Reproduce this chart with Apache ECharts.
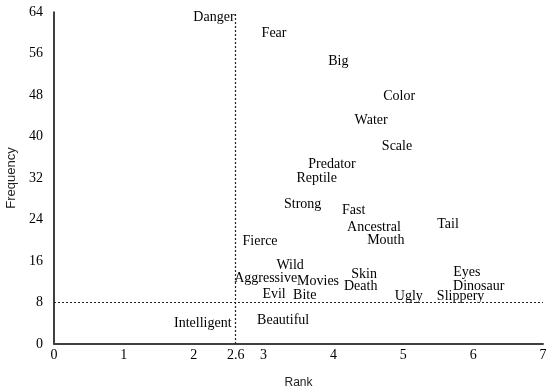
<!DOCTYPE html>
<html><head><meta charset="utf-8">
<script src="https://cdn.jsdelivr.net/npm/echarts@6/dist/echarts.min.js"></script>
<style>html,body{margin:0;padding:0;background:#fff}#c{width:550px;height:389px}</style>
</head><body><div id="c"></div>
<script>
var words = ['Danger','Fear','Big','Color','Water','Scale','Predator','Reptile','Strong','Fast','Tail','Ancestral','Mouth','Fierce','Wild','Aggressive','Movies','Evil','Bite','Skin','Death','Ugly','Slippery','Eyes','Dinosaur','Intelligent','Beautiful'];
var ranks = [2.29,3.15,4.07,4.94,4.54,4.91,3.98,3.76,3.56,4.29,5.64,4.58,4.75,2.95,3.38,3.03,3.78,3.15,3.59,4.44,4.39,5.08,5.82,5.91,6.08,2.13,3.28];
var freqs = [63.0,59.8,54.4,47.8,43.2,38.2,34.7,32.0,27.0,25.8,23.1,22.4,19.9,19.7,15.2,12.7,12.0,9.6,9.4,13.5,11.2,9.1,9.1,13.9,11.2,4.0,4.6];
var xTicks = [0,1,2,2.6,3,4,5,6,7];
var cutRank = 2.6, cutFreq = 8;

var font = '"Liberation Serif", "Times New Roman", serif';
var sans = '"Liberation Sans", Arial, sans-serif';
var data = words.map(function(w,i){return {name:w, value:[ranks[i], freqs[i]]};});
var chart = echarts.init(document.getElementById('c'));
chart.setOption({
  animation:false,
  grid:{left:54, right:7, top:12, bottom:45, outerBoundsMode:'none', containLabel:false},
  xAxis:{type:'value', min:0, max:7, interval:0.2,
    name:'Rank', nameLocation:'middle', nameGap:33,
    nameTextStyle:{fontFamily:sans, fontSize:12, color:'#222'},
    axisLine:{lineStyle:{color:'#404040', width:2}},
    axisTick:{show:false}, splitLine:{show:false},
    axisLabel:{fontFamily:font, fontSize:14, color:'#000', margin:4,
      formatter:function(v){
        for (var i=0;i<xTicks.length;i++){ if (Math.abs(v-xTicks[i])<1e-6) return String(xTicks[i]); }
        return '';
      }}
  },
  yAxis:{type:'value', min:0, max:64, interval:8,
    name:'Frequency', nameLocation:'middle', nameGap:35,
    nameTextStyle:{fontFamily:sans, fontSize:13, color:'#222'},
    axisLine:{show:true, lineStyle:{color:'#000', width:1.5}},
    axisTick:{show:false}, splitLine:{show:false},
    axisLabel:{fontFamily:font, fontSize:14, color:'#000', margin:11}
  },
  series:[{
    type:'scatter', data:data, symbolSize:1, itemStyle:{color:'rgba(0,0,0,0)'},
    label:{show:true, position:'inside', formatter:'{b}', fontFamily:font, fontSize:14, color:'#000', opacity:1, textBorderWidth:0, textBorderColor:'transparent'},
    labelLayout:{hideOverlap:false},
    markLine:{silent:true, symbol:'none', label:{show:false},
      lineStyle:{type:[2,2], color:'#222', width:1.2},
      data:[{xAxis:cutRank},{yAxis:cutFreq}]}
  }]
});
</script></body></html>
